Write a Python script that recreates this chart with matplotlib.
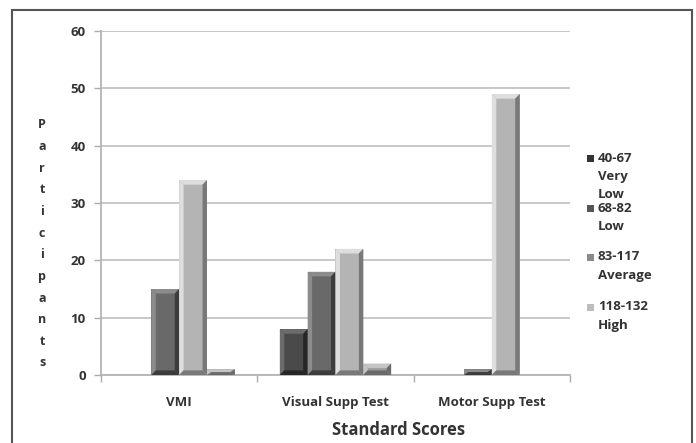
import matplotlib
matplotlib.use("Agg")
import matplotlib.pyplot as plt
from matplotlib.patches import Polygon, Rectangle
import numpy as np

plt.rcParams['font.family'] = ['Open Sans', 'DejaVu Sans']
plt.rcParams['font.weight'] = 'bold'

categories = ["VMI", "Visual Supp Test", "Motor Supp Test"]
series_names = [["40-67", "Very", "Low"], ["68-82", "Low"], ["83-117", "Average"], ["118-132", "High"]]
very_low = [0, 8, 0]
low = [15, 18, 1]
average = [34, 22, 49]
high = [1, 2, 0]
y_ticks = [0, 10, 20, 30, 40, 50, 60]
x_title = "Standard Scores"
y_title = "Participants"

series = [very_low, low, average, high]
# (face, light bevel, dark bevel, legend swatch)
styles = [("#4a4a4a", "#6c6c6c", "#262626", "#333333"),
          ("#696969", "#8c8c8c", "#3c3c3c", "#555555"),
          ("#b4b4b4", "#dedede", "#787878", "#8a8a8a"),
          ("#9c9c9c", "#c4c4c4", "#6a6a6a", "#bdbdbd")]
TXT = "#333333"

W, H = 696, 443
fig = plt.figure(figsize=(W / 100, H / 100), dpi=100)
ax = fig.add_axes([101 / W, 1 - 375 / H, (570 - 101) / W, (375 - 31) / H])

x = np.arange(len(categories))
bw = 0.178
for i, (vals, st) in enumerate(zip(series, styles)):
    bars = ax.bar(x + (i - 1.5) * bw, vals, bw, color=st[0], zorder=3, linewidth=0)
    for r in bars:
        h = r.get_height()
        if h <= 0:
            continue
        x0 = r.get_x(); w = r.get_width(); x1 = x0 + w
        bx = w * 0.16
        by = min(0.8, h / 2)
        # left highlight
        ax.add_patch(Polygon([(x0, 0), (x0 + bx, by), (x0 + bx, h - by), (x0, h)],
                             closed=True, color=st[1], zorder=4, lw=0))
        # top highlight
        ax.add_patch(Polygon([(x0, h), (x0 + bx, h - by), (x1 - bx, h - by), (x1, h)],
                             closed=True, color=st[1], zorder=4, lw=0))
        # right shade
        ax.add_patch(Polygon([(x1, 0), (x1 - bx, by), (x1 - bx, h - by), (x1, h)],
                             closed=True, color=st[2], zorder=4, lw=0))
        # bottom shade
        ax.add_patch(Polygon([(x0, 0), (x0 + bx, by), (x1 - bx, by), (x1, 0)],
                             closed=True, color=st[2], zorder=4, lw=0))

ax.set_xlim(-0.5, len(categories) - 0.5)
ax.set_ylim(0, 60)
ax.set_yticks(y_ticks)
ax.set_yticklabels([str(v) for v in y_ticks], fontsize=9.5, fontweight='bold', color=TXT)
ax.set_xticks(x)
ax.set_xticklabels(categories, fontsize=9.5, fontweight='bold', color=TXT)
ax.set_xticks(np.arange(-0.5, len(categories)), minor=True)
ax.tick_params(axis='x', which='major', length=0, pad=15)
ax.tick_params(axis='x', which='minor', length=5, color="#aaaaaa", width=1)
ax.tick_params(axis='y', length=5, color="#aaaaaa", width=1, pad=6)
ax.grid(axis='y', color="#c4c4c4", linewidth=1.3, zorder=0)
ax.set_axisbelow(True)
for s in ['top', 'right']:
    ax.spines[s].set_visible(False)
for s in ['left', 'bottom']:
    ax.spines[s].set_color("#b4b4b4")
    ax.spines[s].set_linewidth(1.3)

# x title
fig.text(399 / W, 1 - 430 / H, x_title, ha='center', va='center',
         fontsize=12, fontweight='bold', color=TXT)

# stacked y title
n = len(y_title)
for k, ch in enumerate(y_title):
    yc = 125 + k * (363 - 125) / (n - 1)
    fig.text(42 / W, 1 - yc / H, ch, ha='center', va='center',
             fontsize=9, fontweight='bold', color=TXT)

# legend
starts = [158, 208, 257, 307]
for lines, st, y0 in zip(series_names, styles, starts):
    fig.patches.append(Rectangle((587 / W, 1 - (y0 + 3.5) / H), 7 / W, 7 / H,
                                 transform=fig.transFigure, color=st[3], lw=0))
    for j, line in enumerate(lines):
        fig.text(598 / W, 1 - (y0 + j * 18.5) / H, line, ha='left', va='center',
                 fontsize=9.5, fontweight='bold', color=TXT)

# chart frame
fig.patches.append(Rectangle((12 / W, -0.05), 680 / W, 1.05 - 10 / H,
                             transform=fig.transFigure, fill=False,
                             edgecolor="#555555", linewidth=1.5))

fig.savefig("out.png", dpi=100, facecolor="white")
